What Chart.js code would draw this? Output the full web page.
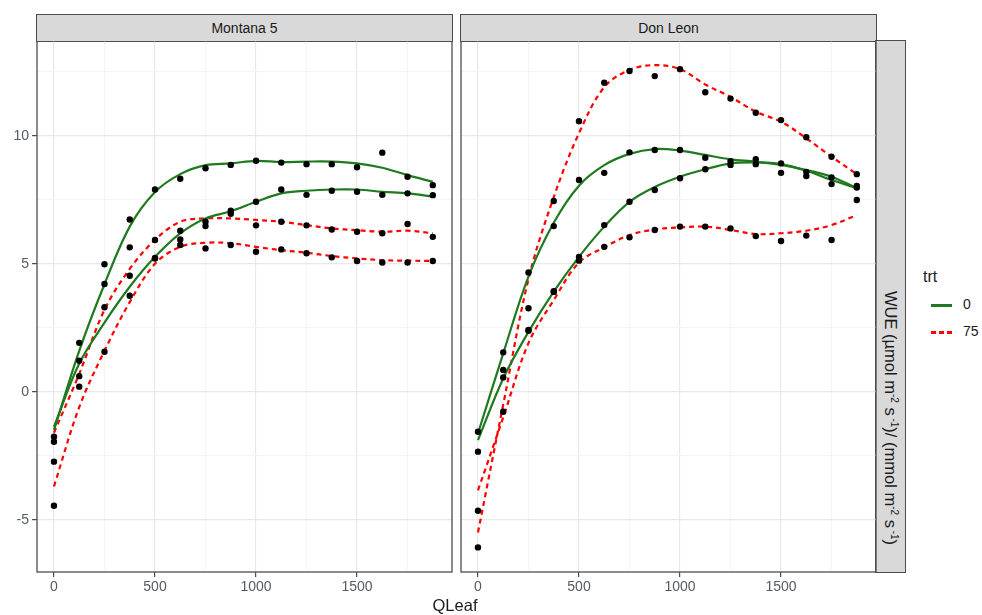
<!DOCTYPE html>
<html>
<head>
<meta charset="utf-8">
<script src="https://cdn.jsdelivr.net/npm/chart.js@4.4.1/dist/chart.umd.min.js"></script>
<style>
  body { margin:0; background:#fff; width:982px; height:615px; overflow:hidden; position:relative;
         font-family:'Liberation Sans', Arial, sans-serif; }
  .wrap { position:absolute; }
  .strip { position:absolute; background:#d9d9d9; border:1.3px solid #4d4d4d; box-sizing:border-box;
           color:#1a1a1a; font-size:14px; display:flex; align-items:center; justify-content:center; }
  .ylab { position:absolute; left:890px; top:418px; transform:translate(-50%,-50%) rotate(90deg);
          white-space:nowrap; font-size:16.5px; color:#1a1a1a; }
  .ylab sup { font-size:10px; vertical-align:6px; }
  .lg { position:absolute; color:#1a1a1a; }
  .key { position:absolute; left:931px; width:21px; height:2.5px; }
</style>
</head>
<body>

<div class="strip" style="left:36px;top:14px;width:417px;height:28px">Montana 5</div>
<div class="strip" style="left:460px;top:14px;width:417px;height:28px">Don Leon</div>
<div class="strip" style="left:875px;top:40px;width:31px;height:533px"></div>
<div class="ylab">WUE (µmol m<sup>-2</sup> s<sup> -1</sup>)/ (mmol m<sup>-2</sup> s<sup> -1</sup>)</div>

<div class="wrap" style="left:0;top:41px;width:460px;height:574px"><canvas id="mt5"></canvas></div>
<div class="wrap" style="left:452px;top:41px;width:432px;height:574px"><canvas id="dl"></canvas></div>

<div class="lg" style="left:923px;top:268px;font-size:16px">trt</div>
<div class="key" style="top:304px;background:#1f7a1f"></div>
<div class="lg" style="left:963px;top:296px;font-size:14px">0</div>
<div class="key" style="top:331px;background:repeating-linear-gradient(to right,#ff0000 0 5px,transparent 5px 8px)"></div>
<div class="lg" style="left:963px;top:323px;font-size:14px">75</div>

<div class="lg" style="left:455px;top:605px;transform:translate(-50%,-50%);font-size:16.5px">QLeaf</div>

<script>
// light levels shared by both cultivars
const qleaf = [0, 125, 250, 375, 500, 625, 750, 875, 1000, 1125, 1250, 1375, 1500, 1625, 1750, 1875];

const xTicks = [0, 500, 1000, 1500];
const xMinor = [250, 750, 1250, 1750];
const yTicks = [-5, 0, 5, 10];
const yMinor = [-2.5, 2.5, 7.5, 12.5];
const xMin = -84, xMax = 1970;
const yMin = -7.04, yMax = 13.7;

// Montana 5 - observed WUE
const mt5Obs0a  = [-1.76, 1.91, 4.98, 6.73, 7.9, 8.32, 8.73, 8.86, 9.02, 8.95, 8.89, 8.89, 8.77, 9.34, 8.4, 8.07];
const mt5Obs0b  = [-1.95, 0.61, 3.3, 4.53, 5.23, 6.29, 6.64, 7.07, 7.42, 7.9, 7.69, 7.85, 7.81, 7.69, 7.75, 7.68];
const mt5Obs75a = [-2.73, 1.21, 4.21, 5.64, 5.93, 5.95, 6.47, 6.95, 6.5, 6.64, 6.5, 6.34, 6.25, 6.19, 6.55, 6.05];
const mt5Obs75b = [-4.45, 0.2, 1.56, 3.75, 5.2, 5.73, 5.6, 5.73, 5.47, 5.56, 5.41, 5.25, 5.11, 5.05, 5.05, 5.11];
// Montana 5 - smoothed fits
const mt5Fit0a  = [-1.5, 1.6, 4.2, 6.45, 7.8, 8.5, 8.85, 8.92, 9.02, 8.97, 8.99, 8.99, 8.92, 8.75, 8.46, 8.2];
const mt5Fit0b  = [-1.37, 1.1, 2.7, 4.1, 5.27, 6.19, 6.77, 7.05, 7.42, 7.75, 7.85, 7.9, 7.9, 7.81, 7.75, 7.63];
const mt5Fit75a = [-1.6, 0.7, 3.2, 4.8, 5.93, 6.64, 6.77, 6.77, 6.71, 6.64, 6.51, 6.38, 6.31, 6.25, 6.29, 6.19];
const mt5Fit75b = [-3.7, -0.6, 1.6, 3.5, 5.0, 5.66, 5.82, 5.8, 5.66, 5.53, 5.43, 5.3, 5.21, 5.14, 5.12, 5.11];

// Don Leon - observed WUE
const dlObs0a  = [-1.56, 1.54, 3.26, 6.47, 8.27, 8.55, 9.35, 9.44, 9.44, 9.14, 9.01, 9.08, 8.92, 8.59, 8.37, 8.04];
const dlObs0b  = [-2.34, 0.85, 2.41, 3.93, 5.27, 6.51, 7.42, 7.88, 8.34, 8.69, 8.86, 8.89, 8.55, 8.43, 8.11, 7.98];
const dlObs75a = [-6.08, -0.78, 4.66, 7.45, 10.57, 12.07, 12.53, 12.33, 12.6, 11.7, 11.45, 10.9, 10.61, 9.94, 9.18, 8.5];
const dlObs75b = [-4.65, 0.56, 2.38, 3.9, 5.12, 5.66, 6.03, 6.32, 6.45, 6.45, 6.38, 6.08, 5.89, 6.1, 5.93, 7.49];
// Don Leon - smoothed fits
const dlFit0a  = [-1.63, 1.5, 4.5, 6.6, 8.05, 8.85, 9.29, 9.48, 9.42, 9.25, 9.08, 8.99, 8.86, 8.66, 8.4, 7.95];
const dlFit0b  = [-1.89, 0.52, 2.34, 3.91, 5.27, 6.45, 7.42, 8.0, 8.4, 8.69, 8.92, 8.96, 8.89, 8.63, 8.27, 7.95];
const dlFit75a = [-5.5, -0.5, 4.4, 7.6, 10.1, 11.9, 12.57, 12.76, 12.6, 12.0, 11.52, 10.94, 10.55, 9.9, 9.18, 8.5];
const dlFit75b = [-3.85, -1.0, 1.9, 3.58, 5.05, 5.64, 6.12, 6.34, 6.42, 6.45, 6.32, 6.16, 6.19, 6.29, 6.51, 6.9];

const GREEN = '#1f7a1f', RED = '#ff0000';
const TICK_COL = '#555a66';

Chart.defaults.font.family = "'Liberation Sans', Arial, sans-serif";

const panelBorder = {
  id: 'panelBorder',
  afterDraw(chart) {
    const a = chart.chartArea, ctx = chart.ctx;
    ctx.save();
    ctx.strokeStyle = '#4d4d4d';
    ctx.lineWidth = 1.3;
    ctx.strokeRect(a.left, a.top, a.right - a.left, a.bottom - a.top);
    ctx.restore();
  }
};

const pts = ys => ys.map((y, i) => ({ x: qleaf[i], y }));
const isMinor = (list, v) => list.includes(v);

function gridOpts(minor, drawTicks) {
  return {
    color: ctx => ctx.tick && isMinor(minor, ctx.tick.value) ? '#f2f2f2' : '#e8e8e8',
    lineWidth: ctx => ctx.tick && isMinor(minor, ctx.tick.value) ? 0.8 : 1.2,
    drawTicks: drawTicks,
    tickLength: 5,
    tickColor: ctx => ctx.tick && isMinor(minor, ctx.tick.value) ? 'rgba(0,0,0,0)' : '#4d4d4d',
    tickWidth: 1.2
  };
}

function makePanel(id, obs, fits, showY, yWidth) {
  const datasets = [{
    data: obs.flatMap(pts),
    pointRadius: 3.2,
    pointBackgroundColor: '#000',
    pointBorderWidth: 0,
    showLine: false
  }];
  fits.forEach(f => datasets.push({
    data: pts(f.vals),
    showLine: true,
    pointRadius: 0,
    borderColor: f.trt === 0 ? GREEN : RED,
    borderWidth: 2.2,
    borderDash: f.trt === 0 ? [] : [5, 4],
    tension: 0.35
  }));

  new Chart(document.getElementById(id), {
    type: 'scatter',
    data: { datasets },
    options: {
      responsive: true,
      maintainAspectRatio: false,
      animation: false,
      layout: { autoPadding: false, padding: { left: 0, right: 8, top: 0, bottom: 0 } },
      plugins: { legend: { display: false }, tooltip: { enabled: false } },
      scales: {
        x: {
          type: 'linear', min: xMin, max: xMax,
          afterBuildTicks: s => { s.ticks = xTicks.concat(xMinor).sort((a, b) => a - b).map(v => ({ value: v })); },
          afterFit: s => { s.height = 43; s.paddingLeft = 0; s.paddingRight = 0; },
          border: { display: false },
          grid: gridOpts(xMinor, true),
          ticks: {
            color: TICK_COL, font: { size: 14 }, padding: 2, maxRotation: 0, autoSkip: false,
            callback: v => xTicks.includes(v) ? String(v) : ''
          }
        },
        y: {
          type: 'linear', min: yMin, max: yMax,
          afterBuildTicks: s => { s.ticks = yTicks.concat(yMinor).sort((a, b) => a - b).map(v => ({ value: v })); },
          afterFit: s => { s.width = yWidth; s.paddingTop = 0; s.paddingBottom = 0; },
          border: { display: false },
          grid: gridOpts(yMinor, showY),
          ticks: {
            display: showY,
            color: TICK_COL, font: { size: 14 }, padding: 3, autoSkip: false,
            callback: v => yTicks.includes(v) ? String(v) : ''
          }
        }
      }
    },
    plugins: [panelBorder]
  });
}

makePanel('mt5',
  [mt5Obs0a, mt5Obs0b, mt5Obs75a, mt5Obs75b],
  [{ trt: 0, vals: mt5Fit0a }, { trt: 0, vals: mt5Fit0b }, { trt: 75, vals: mt5Fit75a }, { trt: 75, vals: mt5Fit75b }],
  true, 37);

makePanel('dl',
  [dlObs0a, dlObs0b, dlObs75a, dlObs75b],
  [{ trt: 0, vals: dlFit0a }, { trt: 0, vals: dlFit0b }, { trt: 75, vals: dlFit75a }, { trt: 75, vals: dlFit75b }],
  false, 9);
</script>
</body>
</html>
